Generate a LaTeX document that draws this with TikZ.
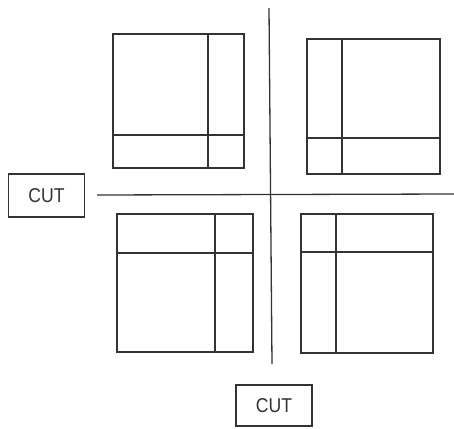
\documentclass[tikz,border=0pt]{standalone}
\usepackage{fontspec}
\setmainfont{Liberation Sans}
\usetikzlibrary{positioning}

\begin{document}
\begin{tikzpicture}[
  x=1pt,y=-1pt,
  line width=1.3pt,
  panel/.style={draw=black!80},
  cutbox/.style={draw=black!80,minimum width=76pt,minimum height=43pt,inner sep=0pt,
    font=\fontsize{20}{20}\selectfont,text=black!80}
]
\useasboundingbox (0,0) rectangle (454,428);
% four panels: left, top, right, bottom, vertical split, horizontal split
\foreach \l/\t/\r/\b/\v/\h in {113/34/244/168/208/135,307/39/440/174/342/138,
                              117/214/253/352/215/253,301/214/433/353/336/252}{
  \draw[panel] (\l,\t) rectangle (\r,\b);
  \draw[panel] (\v,\t) -- (\v,\b);
  \draw[panel] (\l,\h) -- (\r,\h);
}
% cut lines
\coordinate (vtop) at (269,8);
\coordinate (vbot) at (272,364);
\coordinate (hleft) at (97,195);
\coordinate (hright) at (454,194);
\draw[panel] (vtop) -- (vbot);
\draw[panel] (hleft) -- (hright);
\node[cutbox] (cutL) at (46.5,195.5) {\scalebox{0.88}[1]{CUT}};
\node[cutbox,minimum height=41pt] (cutB) at (274,405.5) {\scalebox{0.88}[1]{CUT}};
\end{tikzpicture}
\end{document}
